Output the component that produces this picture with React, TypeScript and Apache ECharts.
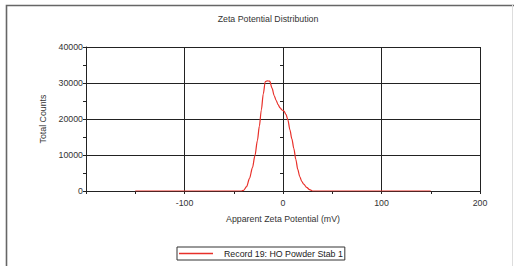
import React, { useEffect, useRef } from "react";
import * as echarts from "echarts";

const titleText = "Zeta Potential Distribution";
const xAxisName = "Apparent Zeta Potential (mV)";
const yAxisName = "Total Counts";
const seriesName = "Record 19: HO Powder Stab 1";

const zeta: number[] = [
  -150, -42, -40, -37, -34, -31, -28.5, -26, -24, -22, -20, -18, -16, -13.5, -11, -9, -7, -5, -3, -1, 1, 3, 5, 7,
  9, 11, 13, 15, 17, 19, 21, 24, 27, 30, 150,
];
const counts: number[] = [
  0, 0, 200, 1200, 3500, 6500, 9800, 14000, 18000, 22500, 27000, 30400, 30600, 30500, 28500, 26500, 25200, 24000,
  23100, 22500, 22200, 21300, 19700, 17000, 14500, 11800, 8800, 6000, 4000, 2700, 1900, 1000, 400, 0, 0,
];

const FONT = "'Liberation Sans', Arial, sans-serif";
const FS = 8.8;
const TXT = "#333";

export default function App() {
  const ref = useRef<HTMLDivElement>(null);
  useEffect(() => {
    if (!ref.current) return;
    const chart = echarts.init(ref.current, null, { renderer: "svg" });
    const data = zeta.map((x, i) => [x, counts[i]]);
    const xBase = {
      type: "value" as const,
      min: -200,
      max: 200,
      interval: 100,
      position: "bottom" as const,
    };
    const yBase = {
      type: "value" as const,
      min: 0,
      max: 40000,
      interval: 10000,
      position: "left" as const,
    };
    chart.setOption({
      animation: false,
      backgroundColor: "#fff",
      textStyle: { fontFamily: FONT },
      title: {
        text: titleText,
        left: 263,
        top: 9.5,
        textAlign: "center",
        textStyle: { fontSize: FS, fontWeight: "normal", color: TXT, fontFamily: FONT },
      },
      grid: { left: 86, right: 34, top: 47, bottom: 75, containLabel: false },
      legend: {
        left: 177,
        top: 247,
        padding: [2, 2, 2, 2],
        borderColor: "#333",
        borderWidth: 1,
        icon: "rect",
        itemWidth: 34,
        itemHeight: 1.5,
        textStyle: { fontSize: FS, color: "#222", fontFamily: FONT, padding: [0, 0, 0, 6] },
        data: [seriesName],
      },
      xAxis: [
        {
          ...xBase,
          name: xAxisName,
          nameLocation: "middle",
          nameGap: 23,
          nameTextStyle: { fontSize: FS, color: TXT, fontFamily: FONT },
          axisLine: { show: true, onZero: false, lineStyle: { color: "#222", width: 1 } },
          axisTick: {
            show: true,
            inside: false,
            length: 3,
            lineStyle: { color: "#222" },
          },
          minorTick: { show: true, splitNumber: 2, length: 3, lineStyle: { color: "#222" } },
          axisLabel: {
            fontSize: FS,
            color: TXT,
            fontFamily: FONT,
            margin: 7,
            formatter: (v: number) => (v === -200 ? "" : String(v)),
          },
          splitLine: { show: true, lineStyle: { color: "#222", width: 1 } },
        },
        {
          ...xBase,
          axisLine: { show: false },
          axisTick: { show: false },
          minorTick: { show: true, splitNumber: 2, length: 3, lineStyle: { color: "#222" } },
          axisLabel: { show: false },
          splitLine: { show: false },
        },
      ],
      yAxis: [
        {
          ...yBase,
          name: yAxisName,
          nameLocation: "middle",
          nameGap: 36,
          nameTextStyle: { fontSize: FS, color: TXT, fontFamily: FONT },
          axisLine: { show: true, onZero: false, lineStyle: { color: "#222", width: 1 } },
          axisTick: { show: true, inside: false, length: 3, lineStyle: { color: "#222" } },
          minorTick: { show: true, splitNumber: 2, length: 3, lineStyle: { color: "#222" } },
          axisLabel: { fontSize: FS, color: TXT, fontFamily: FONT, margin: 3, formatter: (v: number) => String(v) },
          splitLine: { show: true, lineStyle: { color: "#222", width: 1 } },
        },
        {
          ...yBase,
          axisLine: { show: false },
          axisTick: { show: false },
          minorTick: { show: true, splitNumber: 2, length: 3, lineStyle: { color: "#222" } },
          axisLabel: { show: false },
          splitLine: { show: false },
        },
      ],
      series: [
        {
          name: seriesName,
          type: "line",
          xAxisIndex: 0,
          yAxisIndex: 0,
          data,
          showSymbol: false,
          symbol: "none",
          smooth: 0.3,
          smoothMonotone: "x",
          lineStyle: { color: "#e8302a", width: 1.2 },
          itemStyle: { color: "#e8302a" },
        },
      ],
      graphic: [
        {
          type: "polyline",
          shape: { points: [[6.5, 266], [6.5, 5.5], [514, 5.5]] },
          style: { stroke: "#666", lineWidth: 1.6, fill: "none" },
          silent: true,
        },
        {
          type: "line",
          shape: { x1: 512.5, y1: 5, x2: 512.5, y2: 266 },
          style: { stroke: "#ddd", lineWidth: 1 },
          silent: true,
        },
      ],
    });
    return () => chart.dispose();
  }, []);
  return <div ref={ref} style={{ position: "fixed", left: 0, top: 0, width: 514, height: 266 }} />;
}
